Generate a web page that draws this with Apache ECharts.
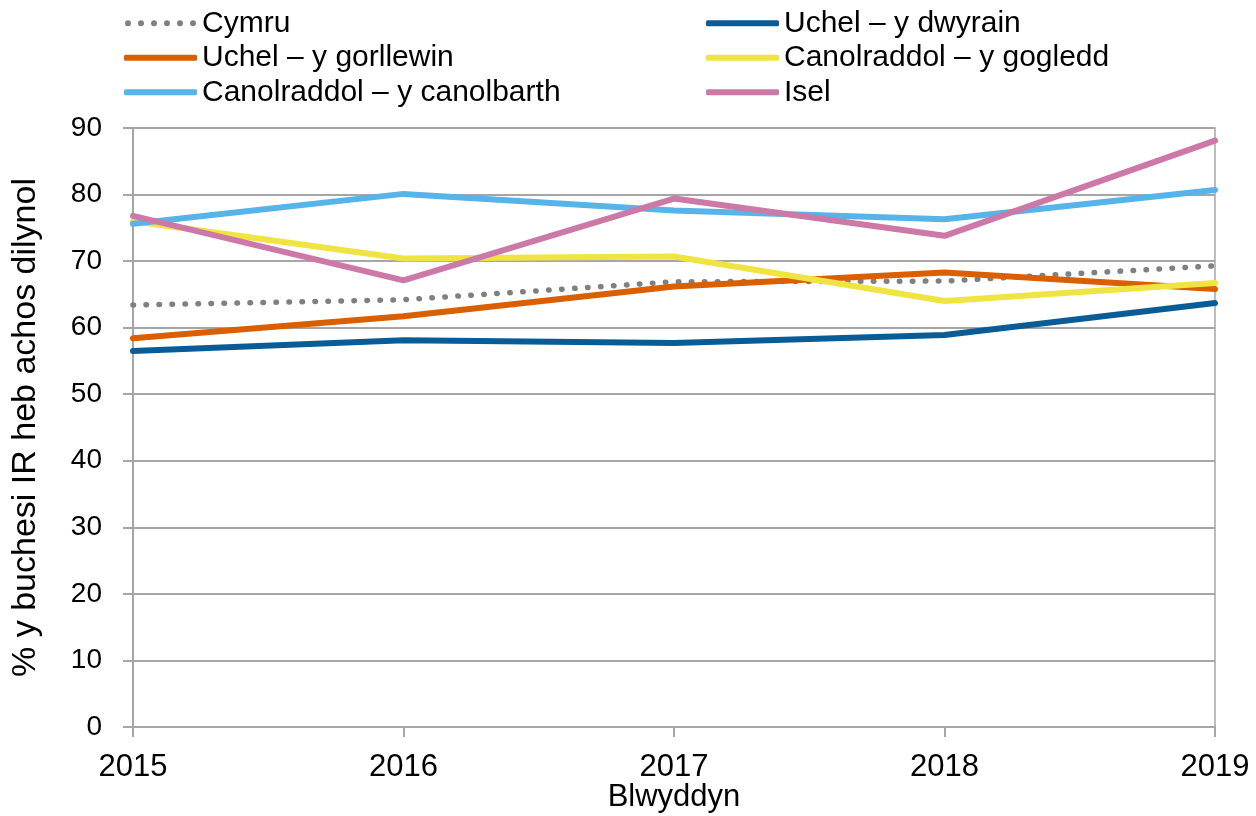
<!DOCTYPE html>
<html>
<head>
<meta charset="utf-8">
<script src="https://cdn.jsdelivr.net/npm/echarts@6/dist/echarts.min.js"></script>
<style>html,body{margin:0;padding:0;background:#fff}#c{width:1256px;height:816px}</style>
</head>
<body>
<div id="c"></div>
<script>
const years = ['2015', '2016', '2017', '2018', '2019'];
const cymru = [63.4, 64.2, 66.9, 67.0, 69.3];
const uchelDwyrain = [56.5, 58.1, 57.7, 58.9, 63.7];
const uchelGorllewin = [58.4, 61.7, 66.2, 68.3, 65.8];
const canolGogledd = [76.0, 70.4, 70.7, 64.0, 66.7];
const canolCanolbarth = [75.6, 80.1, 77.6, 76.3, 80.7];
const isel = [76.8, 67.1, 79.4, 73.8, 88.1];
const yTicks = [0, 10, 20, 30, 40, 50, 60, 70, 80, 90];

const font = 'Liberation Sans, Arial, sans-serif';
function mk(name, data, color, dotted) {
  return {
    name: name, type: 'line', data: data, symbol: 'none', smooth: false,
    lineStyle: dotted ? {color: color, width: 5.5, type: [0.5, 12.5], cap: 'round'} : {color: color, width: 6, cap: 'round'},
    itemStyle: {color: color},
    emphasis: {disabled: true}
  };
}
let dots = '';
for (let i = 0; i < 6; i++) {
  const cx = 3 + i * 13;
  dots += 'M' + (cx - 3) + ',3 a3,3 0 1,0 6,0 a3,3 0 1,0 -6,0 ';
}
const dotIcon = 'path://' + dots;
const chart = echarts.init(document.getElementById('c'));
const legendCommon = {
  orient: 'vertical', top: 6, padding: 0, itemGap: 0, itemWidth: 73, itemHeight: 6,
  icon: 'roundRect',
  textStyle: {fontFamily: font, fontSize: 30, color: '#000', lineHeight: 34.5}
};
chart.setOption({
  animation: false,
  backgroundColor: '#fff',
  legend: [
    Object.assign({left: 124, data: [{name: 'Cymru', icon: dotIcon}, {name: 'Uchel – y gorllewin'}, {name: 'Canolraddol – y canolbarth'}]}, legendCommon),
    Object.assign({left: 706, data: ['Uchel – y dwyrain', 'Canolraddol – y gogledd', 'Isel']}, legendCommon)
  ],
  grid: {left: 133, right: 41, top: 128, bottom: 89, outerBoundsMode: 'none', containLabel: false,
    show: true, borderColor: '#a6a6a6', borderWidth: 1.5},
  xAxis: {
    type: 'category', data: years, boundaryGap: false,
    name: 'Blwyddyn', nameLocation: 'middle', nameGap: 55, nameMoveOverlap: false,
    nameTextStyle: {fontFamily: font, fontSize: 31, color: '#000', verticalAlign: 'top'},
    axisLine: {lineStyle: {color: '#a6a6a6', width: 2}},
    axisTick: {show: true, length: 10, lineStyle: {color: '#a6a6a6', width: 2}},
    axisLabel: {fontFamily: font, fontSize: 31, color: '#000', margin: 25},
    splitLine: {show: false}
  },
  yAxis: {
    type: 'value', min: 0, max: 90, interval: 10,
    name: '% y buchesi IR heb achos dilynol', nameLocation: 'middle', nameGap: 90, nameMoveOverlap: false,
    nameTextStyle: {fontFamily: font, fontSize: 34, color: '#000'},
    axisLine: {show: true, lineStyle: {color: '#a6a6a6', width: 2}},
    axisTick: {show: true, length: 10, inside: false, lineStyle: {color: '#a6a6a6', width: 2}},
    axisLabel: {fontFamily: font, fontSize: 28, color: '#000', margin: 31,
      formatter: v => yTicks.includes(v) ? String(v) : ''},
    splitLine: {lineStyle: {color: '#a6a6a6', width: 2}}
  },
  series: [
    mk('Cymru', cymru, '#808080', true),
    mk('Uchel – y dwyrain', uchelDwyrain, '#0a5c96', false),
    mk('Uchel – y gorllewin', uchelGorllewin, '#d95f00', false),
    mk('Canolraddol – y gogledd', canolGogledd, '#f0e442', false),
    mk('Canolraddol – y canolbarth', canolCanolbarth, '#56b4e9', false),
    mk('Isel', isel, '#cc79a7', false)
  ]
});
</script>
</body>
</html>
